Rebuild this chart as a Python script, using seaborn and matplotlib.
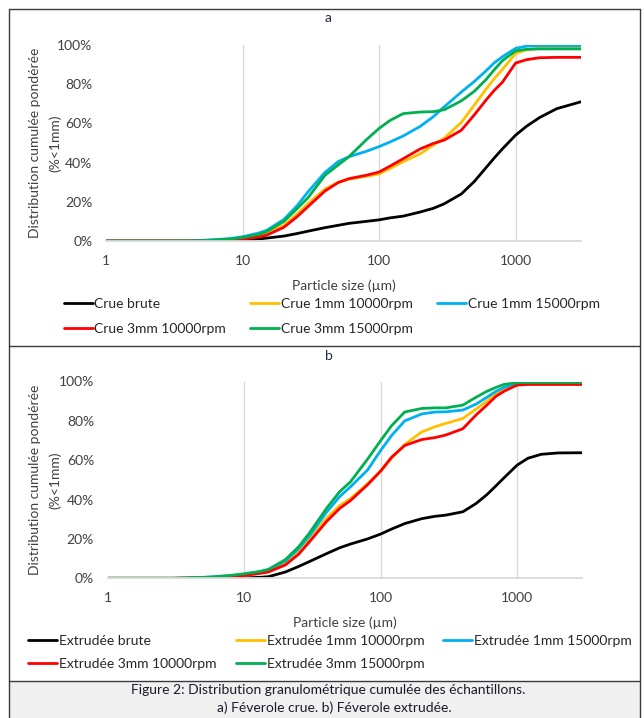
import numpy as np
import pandas as pd
import seaborn as sns
import matplotlib
matplotlib.use("Agg")
import matplotlib.pyplot as plt
from matplotlib.ticker import FixedLocator, FixedFormatter, PercentFormatter
from matplotlib.lines import Line2D
from matplotlib.patches import Rectangle

# ---------------- data ----------------
sizes = [1, 2, 3, 4, 5, 6, 8, 10, 13, 15, 20, 25, 30, 40, 50, 60, 80, 100, 120, 150,
         200, 250, 300, 400, 500, 600, 700, 800, 1000, 1200, 1500, 2000, 3000]

# panel a : Féverole crue
crue_brute = [0, 0, 0, 0, 0, 0, 0.2, 0.5, 1, 1.5, 2.5, 3.8, 5, 6.8, 8, 9, 10, 10.8, 11.8, 12.7,
              14.8, 16.7, 19, 24, 30.5, 37, 42.5, 47, 54, 58.5, 63, 67.5, 71]
crue_1mm_10000 = [0, 0, 0, 0, 0.1, 0.3, 0.7, 1.2, 2.8, 4, 8, 13.8, 19, 26.5, 30, 31.5, 33, 34.2, 37, 40.5,
                  44.5, 49, 52.5, 60.5, 69.5, 77, 83, 87.5, 95.7, 97.5, 98.4, 98.6, 98.6]
crue_1mm_15000 = [0, 0, 0, 0, 0.3, 0.6, 1.2, 2.2, 4, 5.5, 11, 18, 25, 35, 40.5, 43, 45.7, 48.2, 50.5, 53.6,
                  58.5, 63.5, 68.5, 76, 81.5, 86.5, 91, 94, 98.3, 99.4, 99.7, 99.7, 99.7]
crue_3mm_10000 = [0, 0, 0, 0, 0.1, 0.2, 0.5, 1, 2, 3, 7, 12.4, 17.5, 25.5, 29.8, 31.8, 33.5, 35.2, 38.2, 42,
                  47, 49.8, 51.5, 56.5, 64.5, 71.5, 77, 81, 90.8, 92.5, 93.5, 93.7, 93.7]
crue_3mm_15000 = [0, 0, 0, 0, 0.2, 0.5, 1, 1.8, 3.3, 4.8, 10, 16.5, 22, 33.5, 38.8, 43, 51.5, 57.5, 61.5, 65,
                  65.8, 66, 67, 71.5, 76.5, 82, 87.5, 92, 97, 97.8, 98, 98, 98]

# panel b : Féverole extrudée
extr_brute = [0, 0, 0, 0, 0, 0, 0, 0.2, 0.5, 0.8, 3.2, 6, 8.5, 12.5, 15.5, 17.4, 20, 22.5, 25, 27.8,
              30.3, 31.5, 32.1, 33.8, 38, 42.5, 47, 51, 57.5, 61, 63, 63.7, 63.8]
extr_1mm_10000 = [0, 0, 0, 0.1, 0.3, 0.5, 1, 1.7, 2.8, 3.5, 7.6, 13.5, 20, 30.5, 37, 40.5, 48, 54.5, 61, 68,
                  74.4, 77, 78.7, 81.2, 86, 90, 94, 96, 98.3, 98.6, 98.6, 98.6, 98.6]
extr_1mm_15000 = [0, 0, 0, 0.2, 0.4, 0.7, 1.3, 2.1, 3.3, 4.3, 8.8, 15, 21.5, 33.5, 41.5, 46.5, 55, 65, 72.5, 80,
                  83.5, 84.5, 84.6, 85.5, 88.5, 92, 95, 97, 99.2, 99.5, 99.5, 99.5, 99.5]
extr_3mm_10000 = [0, 0, 0, 0.1, 0.2, 0.4, 0.8, 1.4, 2.5, 3.2, 6.8, 12.2, 18.5, 28.8, 35.5, 39.5, 47.5, 54.5, 61.5, 67.5,
                  70.5, 71.5, 72.8, 76, 83, 88, 92.5, 95, 98.2, 98.5, 98.5, 98.5, 98.5]
extr_3mm_15000 = [0, 0, 0, 0.3, 0.5, 0.8, 1.5, 2.3, 3.5, 4.5, 9.5, 16, 23, 35.5, 44, 49, 60.5, 70, 77.5, 84.5,
                  86.3, 86.6, 86.6, 88, 92, 95, 97, 98.5, 99.4, 99.5, 99.5, 99.5, 99.5]

labels_a = ["Crue brute", "Crue 1mm 10000rpm", "Crue 1mm 15000rpm",
            "Crue 3mm 10000rpm", "Crue 3mm 15000rpm"]
labels_b = ["Extrudée brute", "Extrudée 1mm 10000rpm", "Extrudée 1mm 15000rpm",
            "Extrudée 3mm 10000rpm", "Extrudée 3mm 15000rpm"]
series_a = [crue_brute, crue_1mm_10000, crue_1mm_15000, crue_3mm_10000, crue_3mm_15000]
series_b = [extr_brute, extr_1mm_10000, extr_1mm_15000, extr_3mm_10000, extr_3mm_15000]
colors = ["#000000", "#FFC000", "#00B0F0", "#FF0000", "#00B050"]

xticks = [1, 10, 100, 1000]
xticklabels = ["1", "10", "100", "1000"]
yticks = [0, 20, 40, 60, 80, 100]

# ---------------- style ----------------
sns.set_theme(style="white")
FONT = ["Lato", "DejaVu Sans"]
plt.rcParams["font.family"] = FONT
TXT = "#404040"

W, H = 644, 718
fig = plt.figure(figsize=(W / 100, H / 100), dpi=100)
fig.patch.set_facecolor("white")

def fx(px):
    return px / W

def fy(py):
    return 1 - py / H

# caption background + frame
fig.add_artist(Rectangle((fx(9), 0), fx(640) - fx(9), fy(681), transform=fig.transFigure,
                         facecolor="#f0f0f0", edgecolor="none", zorder=0))
frame_kw = dict(transform=fig.transFigure, color="#3a3a3a", lw=1.0, zorder=1)
fig.add_artist(Line2D([fx(9), fx(640)], [fy(9), fy(9)], **frame_kw))
fig.add_artist(Line2D([fx(9), fx(640)], [fy(346), fy(346)], **frame_kw))
fig.add_artist(Line2D([fx(9), fx(640)], [fy(681), fy(681)], **frame_kw))
fig.add_artist(Line2D([fx(9), fx(9)], [fy(9), 0], **frame_kw))
fig.add_artist(Line2D([fx(640), fx(640)], [fy(9), 0], **frame_kw))


def panel(left_px, top_px, bottom_px, series, labels, title, title_y,
          xlabel_y, legend_rows, legend_cols):
    width_px = 474.3
    ax = fig.add_axes([fx(left_px), fy(bottom_px), width_px / W, (bottom_px - top_px) / H])
    handles = []
    for vals, lab, col in zip(series, labels, colors):
        df = pd.DataFrame({"size": sizes, "value": vals})
        sns.lineplot(data=df, x="size", y="value", ax=ax, color=col, lw=2.0,
                     estimator=None, sort=False, legend=False)
        handles.append(Line2D([0], [0], color=col, lw=2.0))
    ax.set_xscale("log")
    ax.set_xlim(1, 3000)
    ax.set_ylim(0, 100)
    ax.xaxis.set_major_locator(FixedLocator(xticks))
    ax.xaxis.set_major_formatter(FixedFormatter(xticklabels))
    ax.xaxis.set_minor_locator(FixedLocator([]))
    ax.yaxis.set_major_locator(FixedLocator(yticks))
    ax.yaxis.set_major_formatter(PercentFormatter(100, decimals=0))
    ax.grid(False)
    for xv in [10, 100, 1000]:
        ax.axvline(xv, color="#d9d9d9", lw=1.0, zorder=0)
    for s in ["top", "right", "left"]:
        ax.spines[s].set_visible(False)
    ax.spines["bottom"].set_color("#d9d9d9")
    ax.spines["bottom"].set_linewidth(1.3)
    ax.tick_params(axis="both", length=0, labelsize=10, labelcolor=TXT)
    ax.tick_params(axis="y", pad=10)
    ax.tick_params(axis="x", pad=10)
    ax.set_xlabel("")
    ax.set_ylabel("Distribution cumulée pondérée\n(%<1mm)", fontsize=10, color=TXT,
                  linespacing=1.75)
    ax.yaxis.set_label_coords((61 - left_px) / width_px, 0.5)
    ax.set_facecolor("none")
    fig.text(fx(left_px + width_px / 2), fy(xlabel_y), "Particle size (µm)", ha="center",
             va="center", fontsize=10, color=TXT, family=FONT)
    fig.text(fx(328.5), fy(title_y), title, ha="center", va="center", fontsize=10,
             color="#1f2a44", family=FONT)
    # legend: row-major, 3 columns
    for i, (h, lab) in enumerate(zip(handles, labels)):
        r, c = divmod(i, 3)
        fig.legend([h], [lab], loc="center left",
                   bbox_to_anchor=(fx(legend_cols[c]), fy(legend_rows[r])),
                   frameon=False, borderpad=0, borderaxespad=0, handlelength=2.1,
                   handletextpad=0.1, labelcolor="#262626",
                   prop={"family": FONT, "size": 10})
    return ax


panel(106.4, 45, 241, series_a, labels_a, "a", 18, 286, [304, 329], [63.5, 250, 437])
panel(107.9, 381.5, 578.3, series_b, labels_b, "b", 356, 623, [641, 664], [28, 236, 443])

fig.text(fx(328), fy(690), "Figure 2: Distribution granulométrique cumulée des échantillons.",
         ha="center", va="center", fontsize=10, color="#1a1a2a", family=FONT)
fig.text(fx(334), fy(708), "a) Féverole crue. b) Féverole extrudée.",
         ha="center", va="center", fontsize=10, color="#1a1a2a", family=FONT)

fig.savefig("out.png", dpi=100, facecolor="white")
